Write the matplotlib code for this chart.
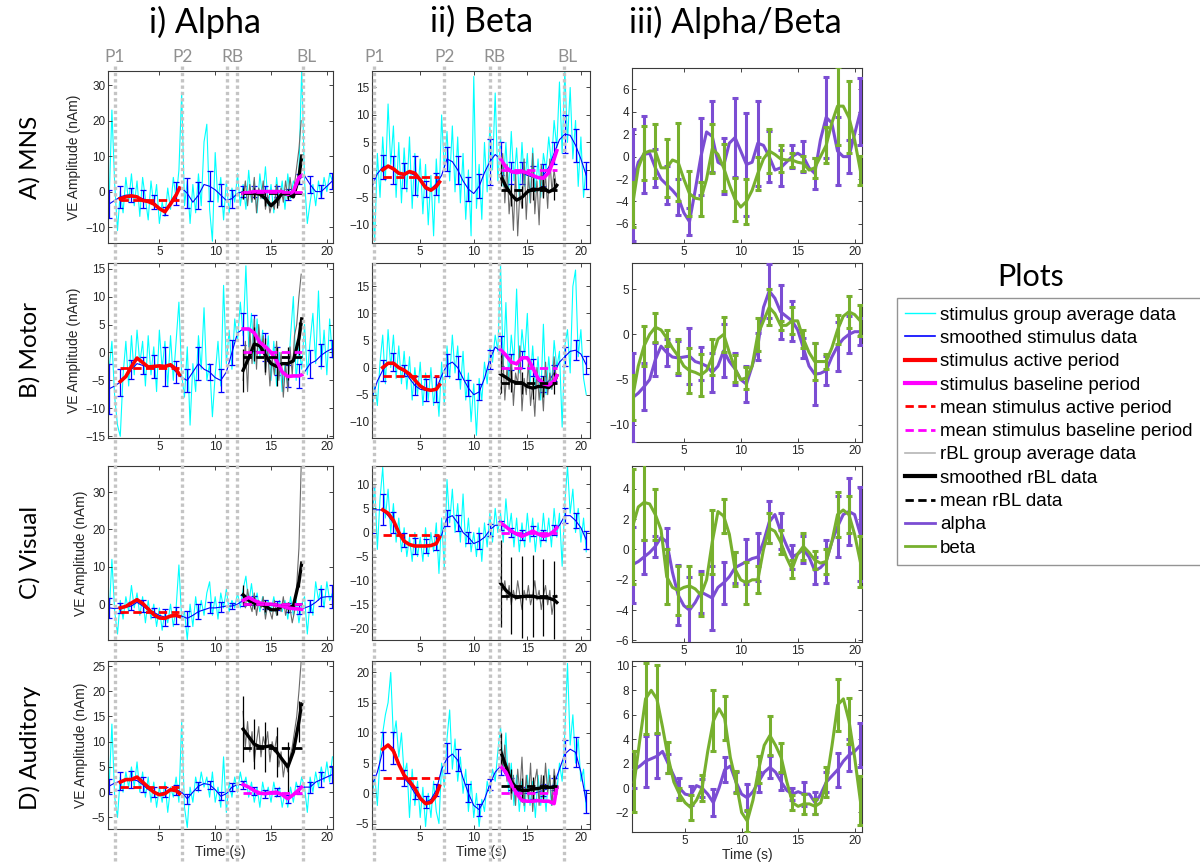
import numpy as np
import matplotlib
matplotlib.use("Agg")
import matplotlib.pyplot as plt
from matplotlib.lines import Line2D
from matplotlib import transforms
from matplotlib.ticker import MultipleLocator

plt.rcParams['font.family'] = ['Liberation Sans', 'DejaVu Sans']

# ---------------------------------------------------------------------------
# Sampling of the stored traces
#   group-average traces : 0.25 s steps from 0.5 s
#   smoothed traces      : 0.5 s steps from 0.5 s (error bars every 1 s)
#   rBL group average    : 0.2 s steps from 12.5 s
#   active / baseline    : 0.5 s steps inside the period windows
# ---------------------------------------------------------------------------
RAW_T0, RAW_DT = 0.5, 0.25
SMOOTH_T0, SMOOTH_DT = 0.5, 0.5
RBL_T0, RBL_DT = 12.5, 0.2
ACTIVE_WINDOW = (1.5, 6.8)
BASELINE_WINDOW = (12.5, 17.75)

conditions = ["MNS", "Motor", "Visual", "Auditory"]
row_labels = ["A) MNS", "B) Motor", "C) Visual", "D) Auditory"]
column_titles = ["i) Alpha", "ii) Beta", "iii) Alpha/Beta"]
period_labels = ["P1", "P2", "RB", "BL"]
# period boundary times (s) as marked on the alpha and beta columns
alpha_period_times = [1.0, 7.05, 11.1, 11.95, 17.85]
beta_period_times = [0.7, 7.25, 11.55, 12.4, 18.4]

# ------------------------------- MNS ---------------------------------------
mns_alpha_raw = [-3, 23, 2, -11, 0, -6, 4, -3,
                 5, -4, 3, -7, 4, -2, -8, 3,
                 -4, 2, -9, -3, -7, 1, -5, 4,
                 -2, 6, 28, -4, 3, -9, 2, -6,
                 5, -4, 14, 19, -5, -14, 11, -3,
                 4, -8, 3, -6, 1, -3, 5, -4,
                 2, -5, 6, -3, 3, -6, 5, -2,
                 7, -4, 2, -6, 4, -3, 3, -5,
                 5, -2, 3, 1, 6, 35, 3, -9,
                 -3, 2, -4, 3, -2, 4, 0, 5,
                 3]
mns_alpha_smooth = [-3.5, -2.5, -1.5, -1, -1, -1.5, -2, -2.5, -3, -4.5, -5.5, -3,
                    -0.5, 1, -0.5, -3, -1, 2, 1.5, 0.5, -1, -2.5, -2, -0.5,
                    0, 0, 0, 0, 0, 0, 0, 0.3, -0.8, 0, 3.5, 4.5,
                    2, 0, 0, 1.5, 3]
mns_alpha_err = [4, 3, 2, 2.5, 2, 1.2, 3.2, 4.2, 3.8, 4.2, 3.2, 2.5, 1.5, 1.5, 1.5,
                 1.5, 1.5, 1.5, 2.5, 1.8, 2.2]
mns_alpha_active = [-2, -1.5, -1.2, -1.5, -2.5, -2.8, -3.5, -4.8, -5.7, -3.5, -1, 1]
mns_alpha_active_mean = -2.5
mns_alpha_base = [-0.5, -0.3, 0, 0, 0, 0, 0, 0, -0.8, 0, 4, 4.5]
mns_alpha_base_mean = 0.0
mns_alpha_rbl_raw = [-2, 3, -4, 2, -3, 4, -6, 1, -2, 3, -5, -1, -6, -3, -5, 2, -4, 1,
                     -3, 3, -2, 4, -1, 2, 7, 12, 20]
mns_alpha_rbl_smooth = [-0.5, -0.5, -0.5, -0.7, -2, -4, -2.5, -0.5, -0.8, -1.5, 4, 10]
mns_alpha_rbl_mean = -0.4
mns_alpha_rbl_err = [1.5, 1.5, 2, 2, 1.5, 2]

mns_beta_raw = [-4, -13, 3, -5, 6, -2, 12, 1,
                8, -5, 5, -6, 4, -4, 6, -7,
                3, -5, 2, -8, 1, -10, -1, -12,
                2, -6, 10, 0, 7, -2, 8, -4,
                6, -6, 3, -9, 0, -12, 17, -7,
                1, -9, 5, -4, 8, 0, 14, -2,
                6, -3, 5, -4, 7, -2, 4, -5,
                5, -3, 3, -6, 4, -4, 2, -5,
                3, 0, 6, 1, 9, 4, 16, 3,
                18, 5, 15, 2, 9, -3, 6, -5,
                1]
mns_beta_smooth = [-3, -0.7, 0.5, 0.7, 0, -0.8, -1, -0.5, -1, -2, -3.5, -3.5,
                   -2.5, -1, 2, 1.5, 0, -2, -3.5, -4.3, -3, -0.5, 1.5, 2.8,
                   2, 0.5, -0.5, -0.5, -0.5, -1, -1.3, -1.5, -1, 0.5, 3, 5.5,
                   6.5, 6.3, 4.5, 2, -1]
mns_beta_err = [1.5, 2.2, 2.5, 2.3, 3.5, 1.5, 2, 2.2, 2.5, 2.2, 2.2, 4.2, 3, 2, 2,
                2, 2, 2, 3.5, 3, 2.5]
mns_beta_active = [0, 0.7, 0.2, -0.6, -0.8, -0.3, -0.6, -1.8, -3.2, -3.7, -3.0, -2.2]
mns_beta_active_mean = -1.2
mns_beta_base = [2, 0.5, -0.3, -0.5, -0.3, -0.5, -1, -1.4, -1.5, -0.5, 2, 3.5]
mns_beta_base_mean = 0.0
mns_beta_rbl_raw = [-2, 3, -6, 1, -8, -3, -11, 0, -12, -4, -7, 2, -9, -1, -6, 3, -8,
                    -2, -10, 1, -5, -1, -7, 2, -4, 0, -3]
mns_beta_rbl_smooth = [-1, -3, -4.5, -5.5, -5, -4, -3.5, -3.6, -3.2, -4, -3.5, -2.8]
mns_beta_rbl_mean = -3.7
mns_beta_rbl_err = [2, 2, 2, 2, 2, 2]

mns_ratio_alpha = [-2.5, -0.5, 0.2, 0.3, -1, -2, -2.5, -3, -3.6, -5, -5.8, -3,
                   0, 2.2, 1.8, -0.5, -0.8, 1.2, 1.7, 0.5, -0.7, -0.5, 1.2, 1,
                   0, -1.2, -1, -0.5, 0, 0.3, 0, -1, -1.5, 1.5, 3.5, 3,
                   0.5, 0, 0, 2, 4]
mns_ratio_alpha_err = [5, 3.4, 1.7, 1.7, 1.6, 1.2, 3.4, 3.2, 2.5, 3.5, 4.6, 3.8, 2.3,
                       1.6, 1, 1.4, 1.4, 3.6, 3, 1.5, 3]
mns_ratio_beta = [-4.3, -1, 0.3, 0.5, 0.5, -1, -1, -0.3, -0.5, -2, -3.3, -3.7,
                  -3.8, -2, 0.7, 0.2, -1, -2.5, -3.8, -4.5, -4, -3, -1.5, -0.2,
                  0.5, 0.2, -0.2, -0.3, -0.3, -0.5, -0.6, -1.2, -1, 0, 1, 3,
                  4.5, 4.5, 3.5, 1.5, -1.2]
mns_ratio_beta_err = [2, 2.4, 2.4, 2.6, 3.5, 2, 1.5, 2.2, 2.1, 1.9, 2, 1.5, 2, 1.2,
                      0.6, 0.7, 0.9, 1.6, 3.5, 3.2, 1.3]

# ------------------------------- Motor -------------------------------------
motor_alpha_raw = [-3, 2, -8, -13, -15, -4, 2, -6,
                   3, -4, 4, -2, 2, -6, 3, -4,
                   1, -7, 4, -3, 2, -6, 3, -5,
                   2, 9, -4, -8, 1, -13, -2, -7,
                   3, -3, 8, -5, -2, -11.5, -4, 2,
                   -6, 12, -2, 4, -3, 6, 2, 9,
                   3, 15.5, 1, 7, -2, 6, -1, 4,
                   -3, 3, -5, 2, -6, 0, -7, -2,
                   -6, 3, 10, -5, 1, -3, 5, -4,
                   2, 7, -2, 11, -3, 4, -4, 6,
                   -1]
motor_alpha_smooth = [-6.5, -6, -5.3, -4.5, -3, -2, -2.3, -2.5, -2.5, -2.5, -2.5, -2.5,
                      -3.5, -4.5, -5, -3.5, -2, -3, -3.5, -4.5, -5, -3.5, 0, 3.5,
                      4.2, 4.2, 3.5, 2, 1, 0, -1.5, -3.5, -4.2, -4.2, -4.2, -3.5,
                      -2, -1.5, -0.5, 0.2, 0.7]
motor_alpha_err = [4.5, 2.4, 1.7, 1.5, 2, 3.5, 2, 2, 3, 1.5, 2, 2.3, 2.8, 3.2, 2.5,
                   2.5, 2, 2.2, 2.5, 2, 1.5]
motor_alpha_active = [-5.2, -4.3, -2.5, -1, -1.8, -2.6, -2.5, -2.4, -2.5, -2.2, -3, -4]
motor_alpha_active_mean = -2.8
motor_alpha_base = [4.2, 4.2, 3.5, 1.8, 1, 0, -1.5, -3.5, -4.3, -4.2, -4.2, -4.0]
motor_alpha_base_mean = 0.1
motor_alpha_rbl_raw = [-5, 2, -7, 4, -2, 6, -3, 5, 0, 3, -4, 1, -6, -1, -4, 2, -5, 0,
                       -8, -2, -7, 1, -4, 3, 5, 10, 14]
motor_alpha_rbl_smooth = [-3.2, -1, 1.5, 1.2, -0.5, -2, -2.5, -2, -2, -1.5, 2.5, 6]
motor_alpha_rbl_mean = -0.8
motor_alpha_rbl_err = [3.8, 3, 3, 3.5, 3, 3]

motor_beta_raw = [-8, -3, -7, 1, 6, -3, 7, 0,
                  6, -2, 4, -3, 3, -4, 2, -6,
                  0, -5, 1, -7, -1, -6, 0, -7,
                  -2, -9, 1, -7, 4, -2, 6, -1,
                  4, -4, 3, -6, -1, -10, -3, -12.5,
                  -2, -6, 1, -3, 4, 1, 6, 3,
                  19, 0, 12, -2, 6, 1, 14.5, -1,
                  7, 2, 10, -3, 4, -4, 2, -6,
                  8, -5, 2, -4, 5, 0, 3, -11,
                  4, 7, -1, 15, 18, 2, 7, -2,
                  -5]
motor_beta_smooth = [-5.5, -2.5, -0.5, 0.8, 1, 0, -0.5, -2, -3.3, -4, -4.2, -4.2,
                     -4, -1.5, 0.5, 1, 0, -2, -3.8, -5, -4.5, -2, 1.5, 3.8,
                     3, 2, 1, 0.5, 1.5, 2, 0, -2.5, -3, -2.5, -1, 1,
                     2, 3, 3.2, 2.5, 0.5]
motor_beta_err = [2.2, 1.9, 1.7, 1, 1.8, 2, 2.3, 2, 2.2, 1.5, 1.5, 1.8, 2.8, 1.5,
                  1.5, 1.5, 1.5, 1.5, 1.8, 1.8, 1.7]
motor_beta_active = [0, 0.8, 0.8, 0, -0.5, -1.2, -2.3, -3.4, -4, -4.2, -4, -3.2]
motor_beta_active_mean = -1.6
motor_beta_base = [3.3, 2.3, 1, 0.7, 1.8, 1.8, 0, -2, -3, -3.2, -2.5, -1.5]
motor_beta_base_mean = 0.0
motor_beta_rbl_raw = [-5, 3, -6, 0, -4, 2, -7, -1, -3, 4, -8, -2, -5, 1, -7, -3, -9,
                      0, -6, -2, -8, 1, -5, -1, -4, 2, -2]
motor_beta_rbl_smooth = [-1.2, -1.8, -2.5, -2.8, -2.8, -3.5, -3.8, -3.5, -3.5, -3.7,
                         -2.8, -1.5]
motor_beta_rbl_mean = -2.9
motor_beta_rbl_err = [3.5, 2, 2, 2, 2, 2]

motor_ratio_alpha = [-7, -6.5, -5.8, -5, -2.8, -1.3, -2, -2.5, -2.6, -2.5, -2.4, -3,
                     -3.2, -3.5, -4.2, -3.5, -1.8, -3, -3.8, -5, -5.5, -3.5, -1.3, 3,
                     4.8, 4, 2.5, 2, 1.5, 0.5, -1.5, -3.5, -4.4, -4.3, -4, -2.5,
                     -1.3, -0.5, 0, 0.3, 0.3]
motor_ratio_alpha_err = [5, 2.6, 1.8, 1.5, 1.9, 3.1, 1.8, 2.2, 2.9, 1.8, 2, 1.5, 3, 3,
                         2.2, 1.1, 3.4, 1.6, 2.7, 2, 1.5]
motor_ratio_beta = [-7, -3.5, -1.3, 0, 0.8, 0.5, -0.4, -1.5, -2.4, -3.5, -4, -4.2,
                    -4.5, -4, -2.5, -0.5, 0, -2, -3.8, -5, -4.8, -3.5, 0, 1.5,
                    3, 2.3, 1, 1, 1.5, 1.5, -0.5, -2, -3, -3, -3, -1.5,
                    0.5, 2, 2.5, 2.2, 1.5]
motor_ratio_beta_err = [2.5, 2.2, 1.6, 0.9, 1.9, 2.5, 2.3, 2, 1.9, 1.5, 1.2, 1.8, 2,
                        0.5, 1.5, 1, 2, 0.8, 1.6, 1.8, 1.7]

# ------------------------------- Visual ------------------------------------
visual_alpha_raw = [-3, 12, -2, -8, 1, -4, 2, -2,
                    5, -1, 3, -3, 2, -5, 1, -4,
                    0, -6, -1, -7, -2, -5, 0, -6,
                    -1, 10.5, -4, -2, -9.5, 0, -6, 2,
                    -4, 1, -3, 3, 6, -3, 2, -4,
                    3, -1, 4, -2, 1, -1, 3, -1,
                    4, 7.5, 0, 5.5, -1, 3, -2, 2,
                    -3, 1, -2, 2, -3, 1, -2, 1,
                    -4, 2, -3, 1, -5, 0, 2, -8,
                    1, -3, 6, 1, 5, -1, 6, 1,
                    3]
visual_alpha_smooth = [-1, -1.2, -1, -0.8, -0.5, 0.5, -0.5, -1.5, -2.2, -3, -3.5, -3,
                       -3, -3.2, -3.8, -3, -2, -1.5, -1, -1, -0.8, -0.5, -0.5, 0,
                       1, 1.8, 1, 0.5, 0, 0, -0.3, -0.5, -1, -1.2, -1.5, -1,
                       -0.5, 0.5, 1.8, 2, 2]
visual_alpha_err = [2.7, 1.3, 1, 1.5, 1.3, 2.3, 2.3, 2, 2, 1.5, 1.4, 0.9, 1.5, 1.2,
                    1.2, 1.2, 1.2, 1.2, 1.5, 2.3, 3.1]
visual_alpha_active = [-1, -0.6, 0.3, 1.2, 0.2, -1.3, -2.8, -3.7, -3.8, -3.2, -3, -3.3]
visual_alpha_active_mean = -2.0
visual_alpha_base = [1, 1.8, 1, 0.3, 0, 0, -0.3, -0.5, -1, -1.2, -1.3, -1.4]
visual_alpha_base_mean = 0.0
visual_alpha_rbl_raw = [3, -1, 4, 0, -2, 3, -3, 1, -1, 2, -4, 0, -2, -4, 1, -3, 0, -2,
                        2, -3, 0, -1, -5, -2, 5, 15, 37]
visual_alpha_rbl_smooth = [2.5, 1, 0.3, 0, -0.5, -1.5, -1.5, -0.5, -1, -0.5, 6, 11]
visual_alpha_rbl_mean = 0.0
visual_alpha_rbl_err = [2.5, 1.5, 1.5, 1.5, 1.5, 1.5]

visual_beta_raw = [2, 10, -3.5, 7, 13.5, 3, 9, 0,
                   6, -2, 3, -4, 1, -5, -1, -6,
                   0, -5, -1, -6, 1, -5, 0, -4,
                   2, -8.5, 3, -7.5, 11, 2, 9, 0,
                   6, -2, 8, -3, 3, -4, 0, -5,
                   1, -6, 2, -3, 4, -2, 5, 0,
                   4, -2, 7, 0, 4, -3, 3, -4,
                   2, -3, 4, -2, 3, -4, 2, -3,
                   4, -2, 3, -3, 5, -1, 4, -7,
                   6, 13.8, 4, 9, 0, 5, -2, 3,
                   -4]
visual_beta_smooth = [4.7, 4.7, 4.7, 3.5, 2, 0, -1.5, -2.5, -2.8, -2.8, -2.8, -2.7,
                      -2.2, -0.5, 3, 3.5, 2, 0, -1, -2.3, -1.8, -1, 0.5, 1.5,
                      1.5, 1.2, 0, -0.5, -0.5, 0, 0.3, -0.5, -0.5, -0.3, 0.5, 1.5,
                      3.5, 3.5, 2.5, 1, -1.5]
visual_beta_err = [4.7, 3.2, 2.2, 1.5, 1.6, 1.5, 1.5, 1.7, 1.6, 1.1, 1.6, 1.2, 0.9, 1,
                   1, 1, 1, 1, 1.6, 1.6, 1.9]
visual_beta_active = [4.7, 4, 2.5, 0, -1.8, -2.5, -2.8, -2.8, -2.8, -2.7, -2.3, -1]
visual_beta_active_mean = -0.5
visual_beta_base = [2, 1.2, 0.3, -0.3, -0.8, -0.3, 0.3, -0.3, -0.8, -0.5, 0.3, 1]
visual_beta_base_mean = 0.0
visual_beta_rbl_raw = [-9, -12, -10, -14, -11, -15, -12, -14, -10, -13, -16, -12, -14,
                       -11, -15, -13, -10, -14, -12, -16, -13, -11, -15, -12, -17, -14,
                       -13]
visual_beta_rbl_smooth = [-10.5, -12, -13, -13.5, -13.3, -13.2, -13.2, -13.5, -13.5,
                          -13.6, -14, -14.5]
visual_beta_rbl_mean = -13.2
visual_beta_rbl_err = [9, 8, 8.5, 8.5, 8, 8]

visual_ratio_alpha = [-1, -0.8, -0.5, -0.2, 0.2, 0.8, 0.5, -1.5, -3, -3.7, -4, -3.5,
                      -2.8, -3, -3.2, -2.5, -2.2, -1.8, -1.2, -1, -0.8, -0.6, -0.5, 0.5,
                      1.8, 2.3, 1.2, 0.3, -0.5, -0.3, 0, -0.5, -1.4, -1.2, -0.8, 0.5,
                      1.5, 2.3, 2.5, 2.3, 1]
visual_ratio_alpha_err = [2.5, 1.1, 0.7, 0.9, 2, 2.2, 1.4, 2.1, 1.4, 1, 1.5, 1.6, 1.4,
                          1.2, 0.8, 0.9, 0.9, 1.4, 2, 2.2, 3.1]
visual_ratio_beta = [1.5, 2.8, 3.1, 3, 2.3, 1.3, -1.8, -2.5, -2.7, -2.5, -2.4, -2.6,
                     -3, -2, 0.5, 2.5, 2.2, 1, -1.3, -2, -2.2, -2, -2, 0,
                     1.4, 1.2, 0.5, -0.5, -1.3, -0.3, 0.2, -0.2, -0.7, -0.9, -0.8, 0.5,
                     2.3, 2.6, 2.3, 1, -0.8]
visual_ratio_beta_err = [3.8, 2.5, 1.7, 1.8, 1.6, 1.3, 1.4, 2.1, 1.1, 1.1, 1.4, 0.9, 1,
                         0.8, 0.6, 0.9, 0.6, 0.8, 1.5, 1.2, 1.7]

# ------------------------------- Auditory ----------------------------------
auditory_alpha_raw = [1, 13.5, -1, -5, 3, 0, 4, 1,
                      5, 1, 6, 0, 4, -1, 3, -2,
                      2, -3, 1, -2, 2, -4, 1, -1,
                      3, -2, 14, -3, -7, 1, -2, 3,
                      0, 4, 1, 3, -1, 4, -2, 1,
                      -3, 7, -4, 2, -1, 3, 0, 4,
                      1, 3, -1, 2, -2, 1, -3, 2,
                      -1, 1, -2, 2, -1, 1, -3, 0,
                      -3, 1, -2, 2, 0, 3, 1, -4,
                      3, 0, 4, 1, 5, 2, 6, 2,
                      7]
auditory_alpha_smooth = [1.2, 1.8, 2.2, 2.5, 2.5, 2.3, 1.5, 0.5, 0, -0.3, 0, 0.5,
                         0.5, 0, -1.3, 0, 1.2, 1.7, 1.5, 0.5, -0.8, -0.3, 1, 1.5,
                         1.5, 1, 0.3, -0.2, -0.3, -0.1, 0, -0.5, -1.3, -0.5, 0.5, 1,
                         1, 2, 2.5, 3, 3.5]
auditory_alpha_err = [1.5, 1.7, 1.6, 1.5, 1, 1, 1, 1, 0.8, 0.8, 0.8, 0.8, 0.8, 0.8,
                      0.8, 0.8, 0.8, 0.8, 1.1, 1.4, 1.6]
auditory_alpha_active = [2, 2.5, 2.5, 3, 2, 1, 0, -0.5, -0.3, 0.5, 0.3, -0.3]
auditory_alpha_active_mean = 1.0
auditory_alpha_base = [1.5, 1, 0.3, -0.2, -0.3, -0.1, 0, -0.5, -1.3, -0.5, 0.5, 1]
auditory_alpha_base_mean = -0.1
auditory_alpha_rbl_raw = [16, 9, 14, 8, 12, 6, 10, 13, 7, 11, 9, 12, 6, 10, 8, 11, 5, 8,
                          3, 6, 4, 7, 9, 12, 15, 20, 26]
auditory_alpha_rbl_smooth = [12.5, 11, 9.5, 9, 9, 9.2, 8, 6.5, 5, 8, 14, 17.5]
auditory_alpha_rbl_mean = 8.8
auditory_alpha_rbl_err = [6.5, 5, 5, 5, 5, 4]

auditory_beta_raw = [-1, 3, -2, 6, 10, 13, 15, 20,
                     9, 12, 6, 10, 3, 5, -4, 4,
                     -2, 2, -4, 1, -5.5, 0, -4, 2,
                     -3, -5, 5, 1, 9, 13.8, 4, 9,
                     2, 6, 0, 4, -3, 2, -4, 0,
                     -5.5, -1, -3, 2, 0, 4, 2, 7,
                     11, 4, 10, 0, 5, -2, 3, -3,
                     2, -3, 3, -2, 2, -4, 3, -2,
                     2, -3, 4, -2, 3, 0, 5, 2,
                     10, 21.5, 8, 13, 5, 9, 2, 4,
                     -3]
auditory_beta_smooth = [1.3, 3.5, 7, 8, 7.5, 5, 2.5, 1.5, 0, -1, -1.5, -1,
                        0.5, 4, 5.8, 6.5, 5.5, 2.5, 0, -2, -2.7, -1, 1.5, 3.5,
                        4.5, 3, 1.5, 0.5, 0, 0, 0, 0.2, 0.5, 0.8, 1.5, 4,
                        6.5, 7.3, 6.8, 3.5, -1.4]
auditory_beta_err = [1.8, 3.2, 2.6, 1.3, 1, 1, 1, 2.5, 1.8, 1.5, 1, 0.9, 1.5, 1, 1, 1,
                     1, 1, 2.3, 2.5, 1.9]
auditory_beta_active = [7.3, 8, 7, 4.8, 3, 2, 0.8, -0.8, -1.7, -1.5, -0.3, 1.2]
auditory_beta_active_mean = 2.5
auditory_beta_base = [4.5, 3.5, 1.5, 0, -1.2, -1.3, -1.3, -1.2, -1.3, -1.3, -1.7, 1]
auditory_beta_base_mean = 0.1
auditory_beta_rbl_raw = [10, 4, 8, 2, 5, -1, 3, -2, 4, 0, 6, -2, 3, -1, 5, -3, 2, 4,
                         -2, 3, -1, 5, 0, 3, -2, 4, 1]
auditory_beta_rbl_smooth = [7, 4.5, 2, 0.8, 0.5, 0.5, 0.7, 0.8, 1, 1, 1, 1]
auditory_beta_rbl_mean = 1.2
auditory_beta_rbl_err = [3, 2, 2, 2, 2, 2]

auditory_ratio_alpha = [1.5, 1.8, 2.2, 2.4, 2.6, 3, 2, 1, 0, -0.5, -0.6, 0.2,
                        0, -0.5, -1.2, 0, 1.5, 1.8, 0.5, -0.5, -0.8, -0.3, 0.5, 1.3,
                        1.7, 1.3, 0.5, -0.2, -0.5, -0.3, -0.5, -0.5, -1.2, -0.5, 0.5, 1,
                        1.5, 2.2, 2.7, 3, 3.5]
auditory_ratio_alpha_err = [1.5, 2.1, 1.8, 0.8, 0.8, 0.8, 0.7, 1.1, 1, 0.8, 1.1, 0.8,
                            0.9, 0.7, 0.5, 1, 0.9, 0.8, 1.4, 1.3, 1.8]
auditory_ratio_beta = [0.5, 4, 7.3, 8, 7.3, 5, 2.5, 0.5, -0.5, -1.2, -1.6, -1,
                       0, 3, 5.5, 6.5, 5.7, 2.5, 0.5, -2, -2.7, -1, 1.5, 3.5,
                       4.3, 3.5, 2.5, 0.5, -1.2, -1.5, -1.3, -1.3, -1.5, -1.2, 0.5, 3.5,
                       6.8, 7.3, 5.5, 2.5, -1]
auditory_ratio_beta_err = [2.5, 2.9, 2.8, 1.3, 0.5, 1, 1.1, 2.5, 1.8, 0.9, 0.9, 1.1,
                           1.6, 1.2, 0.6, 0.8, 0.6, 1.2, 2.1, 1.9, 2]

# ---------------------------------------------------------------------------
# Axis ranges and tick spacing per row (alpha, beta, ratio)
# ---------------------------------------------------------------------------
alpha_ylim = [(-14.5, 34), (-15.3, 16), (-9.6, 37), (-7.3, 26)]
alpha_ystep = [10, 5, 10, 5]
beta_ylim = [(-13.3, 18), (-13, 19.3), (-22.3, 13.8), (-5.9, 21.9)]
beta_ystep = [5, 5, 5, 5]
ratio_ylim = [(-7.7, 7.9), (-11.9, 7.9), (-6.1, 5.5), (-3.6, 10.4)]
ratio_ystep = [2, 5, 2, 2]
col_xlim = [(0.4, 20.55), (0.5, 20.85), (0.45, 20.65)]

# colours
CYAN = '#00FFFF'
BLUE = '#0000FF'
RED = '#FF0000'
MAGENTA = '#FF00FF'
RBL_GREY = '#6A6A6A'
PURPLE = '#7B4DD3'
GREEN = '#77B02E'
PERIOD_GREY = '#C4C4C4'
TEXT = '#262626'

W, H = 1200, 864
fig = plt.figure(figsize=(W / 100, H / 100), dpi=100)


def frac_rect(x0, y0, x1, y1):
    return [x0 / W, 1 - y1 / H, (x1 - x0) / W, (y1 - y0) / H]


col_px = [(108, 333), (372, 590), (632, 862)]
row_px_stim = [(71, 243), (263, 438), (466, 640), (661, 829)]
row_px_ratio = [(68, 243), (263, 442), (466, 642), (661, 832)]


def style_axes(ax, xlim, ylim, ystep):
    ax.set_xlim(*xlim)
    ax.set_ylim(*ylim)
    ax.xaxis.set_major_locator(MultipleLocator(5))
    ax.yaxis.set_major_locator(MultipleLocator(ystep))
    ax.tick_params(direction='in', length=3, width=0.6, top=True, right=True,
                   labelsize=8.5, colors=TEXT, pad=2)
    for s in ax.spines.values():
        s.set_color('#3a3a3a')
        s.set_linewidth(0.8)


def seg_times(window, n):
    start, end = window
    return np.minimum(start + 0.5 * np.arange(n), end)


def draw_stim(ax, d):
    raw = np.asarray(d['raw'], float)
    ax.plot(RAW_T0 + RAW_DT * np.arange(raw.size), raw, color=CYAN, lw=0.8, zorder=1)
    sm = np.asarray(d['smooth'], float)
    ts = SMOOTH_T0 + SMOOTH_DT * np.arange(sm.size)
    ax.plot(ts, sm, color=BLUE, lw=0.8, zorder=2)
    ax.errorbar(ts[::2], sm[::2], yerr=d['err'], fmt='none', ecolor=BLUE,
                elinewidth=0.9, capsize=2.2, capthick=0.9, zorder=2)
    rr = np.asarray(d['rbl_raw'], float)
    ax.plot(RBL_T0 + RBL_DT * np.arange(rr.size), rr, color=RBL_GREY, lw=0.8, zorder=3)
    rs = np.asarray(d['rbl_smooth'], float)
    tr = seg_times(BASELINE_WINDOW, rs.size)
    ax.errorbar(tr[::2], rs[::2], yerr=d['rbl_err'], fmt='none', ecolor='black',
                elinewidth=0.9, capsize=0, zorder=4)
    ax.plot(tr, rs, color='black', lw=2.4, zorder=5)
    ax.hlines(d['rbl_mean'], *BASELINE_WINDOW, colors='black', lw=2,
              linestyles=(0, (3, 1.6)), zorder=6)
    act = np.asarray(d['active'], float)
    ax.plot(seg_times(ACTIVE_WINDOW, act.size), act, color=RED, lw=2.6, zorder=5)
    ax.hlines(d['active_mean'], *ACTIVE_WINDOW, colors=RED, lw=2,
              linestyles=(0, (3, 1.6)), zorder=6)
    base = np.asarray(d['base'], float)
    ax.plot(seg_times(BASELINE_WINDOW, base.size), base, color=MAGENTA, lw=2.6, zorder=5)
    ax.hlines(d['base_mean'], *BASELINE_WINDOW, colors=MAGENTA, lw=2,
              linestyles=(0, (3, 1.6)), zorder=6)


def draw_ratio(ax, alpha, alpha_err, beta, beta_err):
    for vals, errs, col in ((alpha, alpha_err, PURPLE), (beta, beta_err, GREEN)):
        v = np.asarray(vals, float)
        t = SMOOTH_T0 + SMOOTH_DT * np.arange(v.size)
        ax.plot(t, v, color=col, lw=2.2, zorder=3, solid_joinstyle='round')
        ax.errorbar(t[::2], v[::2], yerr=errs, fmt='none', ecolor=col,
                    elinewidth=2.2, capsize=2.4, capthick=2.2, zorder=3)


g = globals()
top_axes = []
for r, cond in enumerate(conditions):
    key = cond.lower()
    for c, band in enumerate(['alpha', 'beta']):
        ax = fig.add_axes(frac_rect(col_px[c][0], row_px_stim[r][0],
                                    col_px[c][1], row_px_stim[r][1]))
        d = {k: g[f'{key}_{band}_{k}'] for k in
             ['raw', 'smooth', 'err', 'active', 'active_mean', 'base', 'base_mean',
              'rbl_raw', 'rbl_smooth', 'rbl_mean', 'rbl_err']}
        draw_stim(ax, d)
        ylim = alpha_ylim[r] if band == 'alpha' else beta_ylim[r]
        ystep = alpha_ystep[r] if band == 'alpha' else beta_ystep[r]
        style_axes(ax, col_xlim[c], ylim, ystep)
        if c == 0:
            ax.set_ylabel('VE Amplitude (nAm)', fontsize=10, color=TEXT, labelpad=3)
        if r == 3:
            ax.set_xlabel('Time (s)', fontsize=10, color=TEXT, labelpad=1)
        if r == 0:
            top_axes.append(ax)
    ax = fig.add_axes(frac_rect(col_px[2][0], row_px_ratio[r][0],
                                col_px[2][1], row_px_ratio[r][1]))
    draw_ratio(ax, g[f'{key}_ratio_alpha'], g[f'{key}_ratio_alpha_err'],
               g[f'{key}_ratio_beta'], g[f'{key}_ratio_beta_err'])
    xl = (0.3, 20.65) if r == 3 else col_xlim[2]
    style_axes(ax, xl, ratio_ylim[r], ratio_ystep[r])
    if r == 3:
        ax.set_xlabel('Time (s)', fontsize=10, color=TEXT, labelpad=1)

# period boundaries drawn across every row of the alpha and beta columns
for ax, times in zip(top_axes, [alpha_period_times, beta_period_times]):
    tf = transforms.blended_transform_factory(ax.transData, fig.transFigure)
    for t in times:
        fig.add_artist(Line2D([t, t], [1 - 66 / H, 0.0], transform=tf,
                              color=PERIOD_GREY, lw=2.4, linestyle=(0, (1, 0.9)),
                              zorder=10))
    label_x = [times[0], times[1], 0.5 * (times[2] + times[3]), times[4] + 0.3]
    for lab, x in zip(period_labels, label_x):
        fig.text(x, 1 - 57 / H, lab, transform=tf, ha='center', va='center',
                 fontsize=12.5, color='#909090', family=['Lato', 'DejaVu Sans'])

# column titles and row labels
for title, x in zip(column_titles, [205, 482, 735]):
    fig.text(x / W, 1 - 22 / H, title, ha='center', va='center', fontsize=24.5,
             color='black', family=['Lato', 'DejaVu Sans'])
for lab, y in zip(row_labels, [157, 350, 552, 748]):
    fig.text(30 / W, 1 - y / H, lab, ha='center', va='center', rotation=90,
             fontsize=17.5, color='black', family=['Lato', 'DejaVu Sans'])

# legend
fig.text(1031 / W, 1 - 277 / H, 'Plots', ha='center', va='center', fontsize=22,
         family=['Lato', 'DejaVu Sans'])
handles = [
    Line2D([], [], color=CYAN, lw=1),
    Line2D([], [], color=BLUE, lw=1.2),
    Line2D([], [], color=RED, lw=3),
    Line2D([], [], color=MAGENTA, lw=3),
    Line2D([], [], color=RED, lw=2, linestyle=(0, (3, 1.6))),
    Line2D([], [], color=MAGENTA, lw=2, linestyle=(0, (3, 1.6))),
    Line2D([], [], color='#B5B5B5', lw=1.2),
    Line2D([], [], color='black', lw=3),
    Line2D([], [], color='black', lw=2, linestyle=(0, (3, 1.6))),
    Line2D([], [], color=PURPLE, lw=2),
    Line2D([], [], color=GREEN, lw=2),
]
labels = ['stimulus group average data', 'smoothed stimulus data',
          'stimulus active period', 'stimulus baseline period',
          'mean stimulus active period', 'mean stimulus baseline period',
          'rBL group average data', 'smoothed rBL data', 'mean rBL data',
          'alpha', 'beta']
leg = fig.legend(handles, labels, loc='upper left',
                 bbox_to_anchor=(897 / W, 1 - 298 / H), fontsize=13.5,
                 frameon=True, fancybox=False, edgecolor='#7a7a7a',
                 borderpad=0.45, labelspacing=0.33, handlelength=1.6,
                 handletextpad=0.25, borderaxespad=0)
leg.get_frame().set_linewidth(1.0)

fig.savefig('out.png', dpi=100, facecolor='white')
